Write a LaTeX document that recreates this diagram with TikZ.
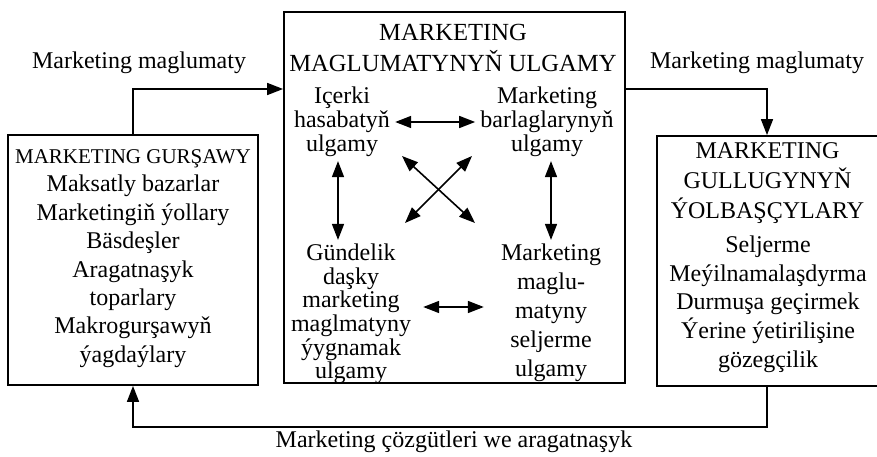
\documentclass[tikz,border=0pt]{standalone}
\usepackage{fontspec}
\setmainfont{Liberation Serif}
\usetikzlibrary{arrows.meta,calc}
\begin{document}
\begin{tikzpicture}[x=1pt,y=-1pt,
  box/.style={draw,line width=1.8pt,inner sep=0pt},
  txt/.style={align=center,inner sep=0pt,font=\fontsize{24}{28.4}\selectfont},
  itxt/.style={align=center,inner xsep=5pt,inner ysep=4pt},
  arr/.style={line width=1.6pt,-{Triangle[length=16pt,width=12pt]}},
  darr/.style={line width=1.6pt,{Triangle[length=16pt,width=12pt]}-{Triangle[length=16pt,width=12pt]}}
]
\useasboundingbox (0,0) rectangle (877,457);
% boxes
\node[box,minimum width=250pt,minimum height=250pt] (lbox) at (133,260) {};
\node[box,minimum width=341pt,minimum height=371pt] (mbox) at (454.5,197.5) {};
\node[box,minimum width=230pt,minimum height=250pt] (rbox) at (772,261) {};
% left box text
\node[txt] (lt) at (133,258.5) {{\fontsize{21}{28.4}\selectfont MARKETING GURŞAWY}\\Maksatly bazarlar\\Marketingiň ýollary\\Bäsdeşler\\Aragatnaşyk\\toparlary\\Makrogurşawyň\\ýagdaýlary};
% middle title
\node[txt,font=\fontsize{24.6}{31}\selectfont] (mt) at (453,48) {MARKETING\\MAGLUMATYNYŇ ULGAMY};
% right box text
\node[txt,font=\fontsize{24}{30}\selectfont] (rt) at (767.5,183) {MARKETING\\GULLUGYNYŇ\\ÝOLBAŞÇYLARY};
\node[txt,font=\fontsize{24}{28.7}\selectfont] (rb) at (768,304) {Seljerme\\Meýilnamalaşdyrma\\Durmuşa geçirmek\\Ýerine ýetirilişine\\gözegçilik};
% inner nodes
\node[itxt,font=\fontsize{24}{24}\selectfont] (ic) at (342,122) {Içerki\\hasabatyň\\ulgamy};
\node[itxt,font=\fontsize{24}{24}\selectfont] (mb) at (547,122) {Marketing\\barlaglarynyň\\ulgamy};
\node[itxt,font=\fontsize{24}{23.6}\selectfont] (gd) at (351,314) {Gündelik\\daşky\\marketing\\maglmatyny\\ýygnamak\\ulgamy};
\node[itxt,font=\fontsize{24}{29}\selectfont] (ms) at (551,313) {Marketing\\maglu-\\matyny\\seljerme\\ulgamy};
% labels
\node[txt] (l1) at (139,63) {Marketing maglumaty};
\node[txt] (l2) at (757,63) {Marketing maglumaty};
\node[txt] (l3) at (454,442) {Marketing çözgütleri we aragatnaşyk};
% outer connectors
\coordinate (tl) at (133,89);
\coordinate (tr) at (767,89);
\coordinate (bb) at (0,427);
\draw[arr] (lbox.north) -- (tl) -- (tl -| mbox.west);
\draw[arr] (tr -| mbox.east) -- (tr) -- (tr |- rbox.north);
\draw[arr] (tr |- rbox.south) -- (tr |- bb) -- (lbox.south |- bb) -- (lbox.south);
% inner connectors
\draw[darr] (ic.east) -- (mb.west);
\draw[darr] ([xshift=-4pt]ic.south) -- ([xshift=-4pt]ic.south |- gd.north);
\draw[darr] (ms.north |- mb.south) -- (ms.north);
\coordinate (c1) at (402,156);
\coordinate (c2) at (472,156);
\coordinate (c3) at (405,223);
\coordinate (c4) at (475,223);
\draw[darr] (c1) -- (c4);
\draw[darr] (c2) -- (c3);
\draw[darr] ([shift={(7pt,7pt)}]gd.east) -- ([shift={(-12pt,6pt)}]ms.west);
\end{tikzpicture}
\end{document}
